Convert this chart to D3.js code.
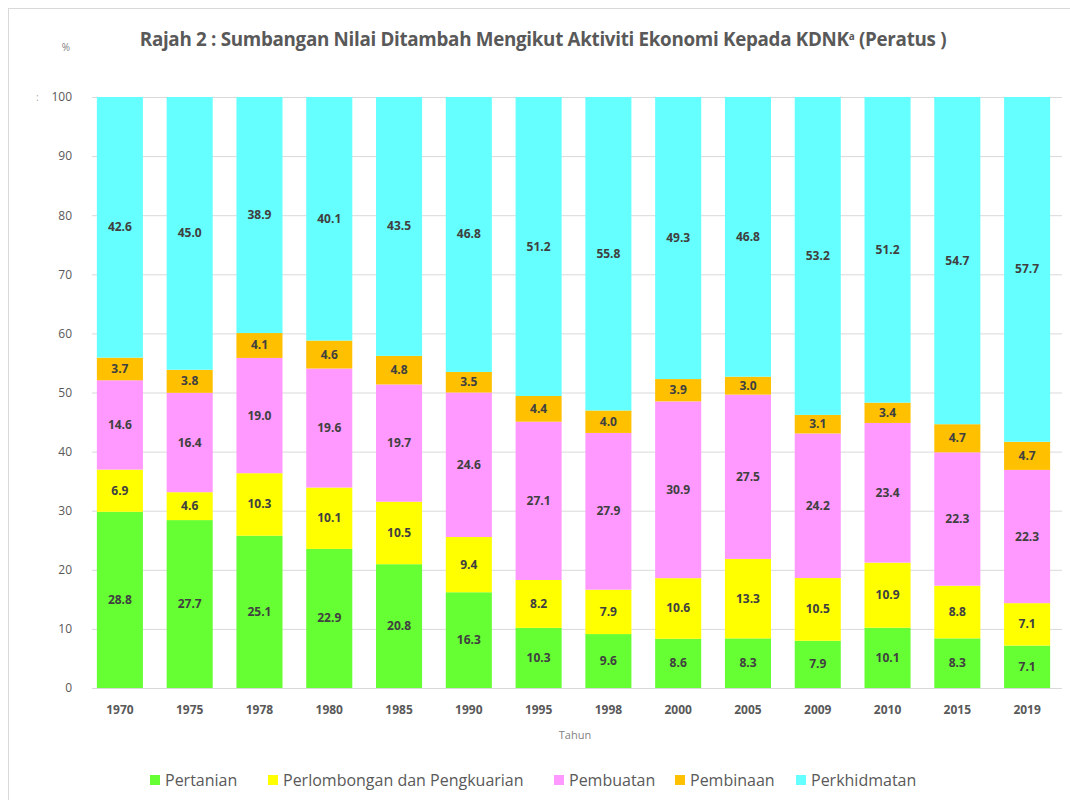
<meta charset="utf-8">
<style>
	body { margin: 0; background: #fff; }
	text { font-family: "Open Sans", sans-serif; }
</style>
<body>
<svg id="svg"></svg>
<script src="https://cdn.jsdelivr.net/npm/d3@7/dist/d3.min.js"></script>
<script>
// DATA
var years = ['1970', '1975', '1978', '1980', '1985', '1990', '1995', '1998', '2000', '2005', '2009', '2010', '2015', '2019']
var series = ['Pertanian', 'Perlombongan dan Pengkuarian', 'Pembuatan', 'Pembinaan', 'Perkhidmatan']
var pertanian    = [28.8, 27.7, 25.1, 22.9, 20.8, 16.3, 10.3, 9.6, 8.6, 8.3, 7.9, 10.1, 8.3, 7.1]
var perlombongan = [6.9, 4.6, 10.3, 10.1, 10.5, 9.4, 8.2, 7.9, 10.6, 13.3, 10.5, 10.9, 8.8, 7.1]
var pembuatan    = [14.6, 16.4, 19.0, 19.6, 19.7, 24.6, 27.1, 27.9, 30.9, 27.5, 24.2, 23.4, 22.3, 22.3]
var pembinaan    = [3.7, 3.8, 4.1, 4.6, 4.8, 3.5, 4.4, 4.0, 3.9, 3.0, 3.1, 3.4, 4.7, 4.7]
var perkhidmatan = [42.6, 45.0, 38.9, 40.1, 43.5, 46.8, 51.2, 55.8, 49.3, 46.8, 53.2, 51.2, 54.7, 57.7]
var yTicks = [0, 10, 20, 30, 40, 50, 60, 70, 80, 90, 100]
var colors = ['#66ff33', '#ffff00', '#ff99ff', '#ffc000', '#66ffff']

// CANVAS
var width = 1070
var height = 800

var svg = d3.select( '#svg' )
	.attr( 'width', width )
	.attr( 'height', height )

// frame
svg.append( 'rect' )
	.attr( 'x', 8.5 ).attr( 'y', 8.5 )
	.attr( 'width', width ).attr( 'height', height )
	.attr( 'fill', 'none' )
	.attr( 'stroke', '#d9d9d9' )

// table: one row per year, values normalised to 100 (100% stacked)
var rows = years.map( ( y, i ) => {
	var vals = [ pertanian[i], perlombongan[i], pembuatan[i], pembinaan[i], perkhidmatan[i] ]
	var r = { year: y }
	series.forEach( ( s, j ) => r[s] = vals[j] )
	return r
})

var stacked = d3.stack()
	.keys( series )
	.offset( d3.stackOffsetExpand )( rows )

// SCALES
var x = d3.scaleBand()
	.domain( years )
	.range([ 85, 1062 ])
	.paddingInner( 0.34 )
	.paddingOuter( 0.17 )

var y = d3.scaleLinear()
	.domain([ 0, 100 ])
	.range([ 688, 97 ])

// gridlines
svg.append( 'g' )
	.selectAll( 'line' )
	.data( yTicks )
	.enter()
	.append( 'line' )
		.attr( 'x1', 92 ).attr( 'x2', 1062 )
		.attr( 'y1', d => y( d ) + 0.5 )
		.attr( 'y2', d => y( d ) + 0.5 )
		.attr( 'stroke', '#d9d9d9' )

// y axis labels
var yAxis = svg.append( 'g' )
	.attr( 'transform', 'translate(72,0)' )
	.call( d3.axisLeft( y ).tickValues( yTicks ).tickSize( 0 ).tickPadding( 0 ))
yAxis.select( '.domain' ).remove()
yAxis.selectAll( 'text' )
	.attr( 'fill', '#595959' )
	.style( 'font-size', '12px' )

// x axis labels
var xAxis = svg.append( 'g' )
	.attr( 'transform', 'translate(0,705)' )
	.call( d3.axisBottom( x ).tickSize( 0 ).tickPadding( 0 ))
xAxis.select( '.domain' ).remove()
xAxis.selectAll( 'text' )
	.attr( 'fill', '#595959' )
	.style( 'font-size', '12px' )
	.style( 'font-weight', 'bold' )

// BARS
var layers = svg.append( 'g' )
	.selectAll( 'g' )
	.data( stacked )
	.enter()
	.append( 'g' )
		.attr( 'fill', ( d, i ) => colors[i] )

layers.selectAll( 'rect' )
	.data( d => d )
	.enter()
	.append( 'rect' )
		.attr( 'x', d => x( d.data.year ))
		.attr( 'width', x.bandwidth() )
		.attr( 'y', d => y( d[1] * 100 ))
		.attr( 'height', d => y( d[0] * 100 ) - y( d[1] * 100 ))

// LABELS
layers.each( function( layer ){
	d3.select( this ).selectAll( 'text' )
		.data( layer )
		.enter()
		.append( 'text' )
			.attr( 'x', d => x( d.data.year ) + x.bandwidth() / 2 )
			.attr( 'y', d => ( y( d[0] * 100 ) + y( d[1] * 100 )) / 2 + 4 )
			.attr( 'text-anchor', 'middle' )
			.attr( 'fill', '#404040' )
			.style( 'font-size', '12px' )
			.style( 'font-weight', 'bold' )
			.text( d => d.data[ layer.key ].toFixed( 1 ))
})

// TITLE
var title = svg.append( 'text' )
	.attr( 'x', 543 )
	.attr( 'y', 46 )
	.attr( 'text-anchor', 'middle' )
	.attr( 'fill', '#595959' )
	.style( 'font-size', '18.8px' )
	.style( 'font-weight', 'bold' )
	.style( 'letter-spacing', '-0.3px' )
title.append( 'tspan' ).text( 'Rajah 2 : Sumbangan Nilai Ditambah Mengikut Aktiviti Ekonomi Kepada KDNK' )
title.append( 'tspan' ).attr( 'dy', -6 ).style( 'font-size', '10px' ).text( 'a' )
title.append( 'tspan' ).attr( 'dy', 6 ).text( ' (Peratus )' )

svg.append( 'text' )
	.attr( 'x', 66 ).attr( 'y', 51 )
	.attr( 'text-anchor', 'middle' )
	.attr( 'fill', '#7f7f7f' )
	.style( 'font-size', '10px' )
	.text( '%' )

svg.append( 'text' )
	.attr( 'x', 36 ).attr( 'y', 101 )
	.attr( 'fill', '#a6a6a6' )
	.style( 'font-size', '10px' )
	.text( ':' )

svg.append( 'text' )
	.attr( 'x', 575 ).attr( 'y', 739 )
	.attr( 'text-anchor', 'middle' )
	.attr( 'fill', '#7f7f7f' )
	.style( 'font-size', '11px' )
	.text( 'Tahun' )

// LEGEND
var legendX = [ 150, 268, 554, 675, 796 ]
var legend = svg.append( 'g' )
	.selectAll( 'g' )
	.data( series )
	.enter()
	.append( 'g' )
		.attr( 'transform', ( d, i ) => 'translate(' + legendX[i] + ',780)' )

legend.append( 'rect' )
	.attr( 'x', 0 ).attr( 'y', -5 )
	.attr( 'width', 10 ).attr( 'height', 10 )
	.attr( 'fill', ( d, i ) => colors[i] )

legend.append( 'text' )
	.attr( 'x', 15 ).attr( 'y', 6 )
	.attr( 'fill', '#595959' )
	.style( 'font-size', '16px' )
	.text( d => d )
</script>
</body>
